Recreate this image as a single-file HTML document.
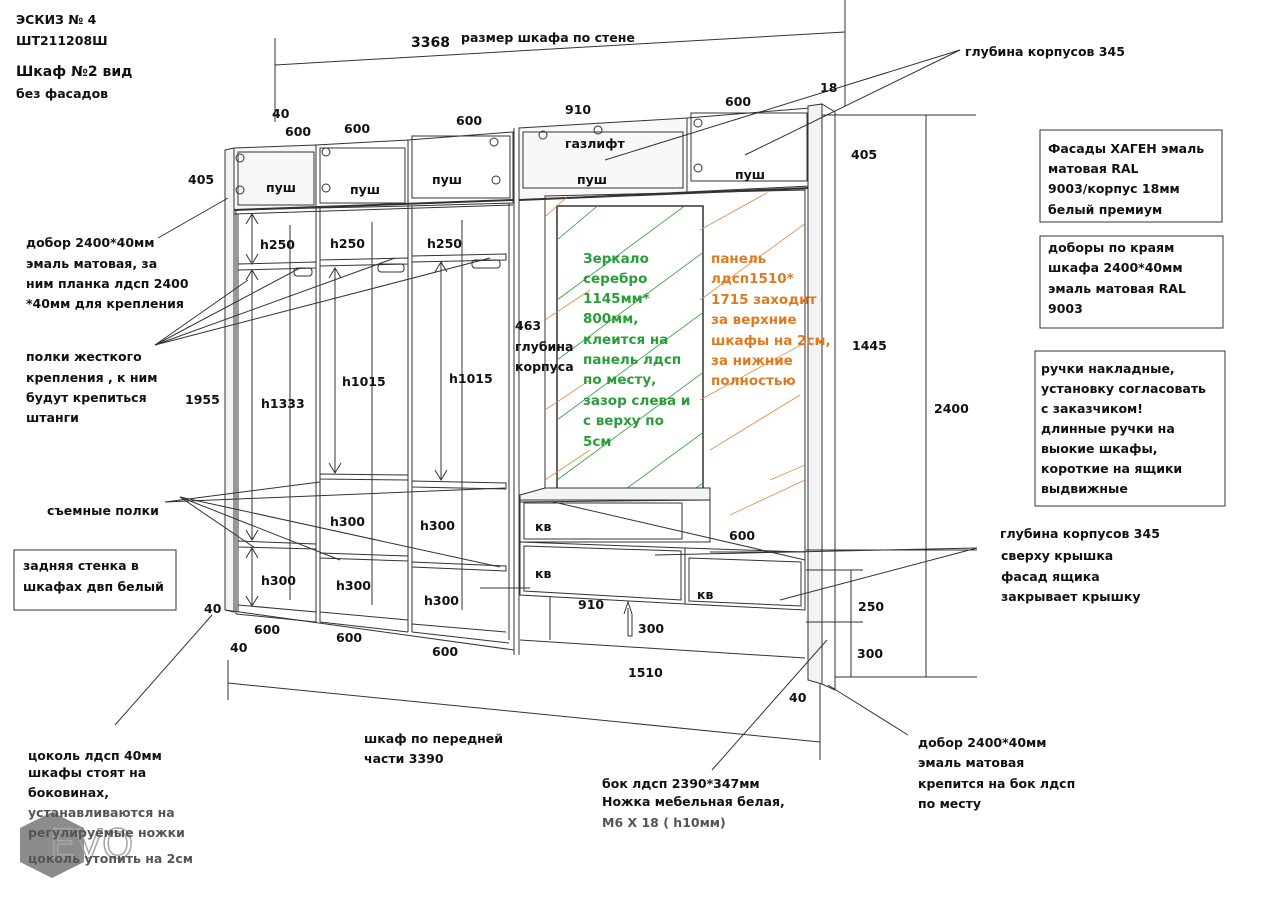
<!DOCTYPE html>
<html><head><meta charset="utf-8"><style>
html,body{margin:0;padding:0;background:#fff;}
svg{display:block;}
text{font-family:"DejaVu Sans","Liberation Sans",sans-serif;font-weight:bold;font-size:12.5px;fill:#111;}
.g{fill:#2a9d3a;font-size:13.5px;}
.o{fill:#e07a20;font-size:13.5px;}
</style></head><body>
<svg width="1275" height="900" viewBox="0 0 1275 900" xmlns="http://www.w3.org/2000/svg">
<defs>
<clipPath id="mir"><rect x="557" y="206" width="146" height="287"/></clipPath>
<clipPath id="pan"><polygon points="545,196 805,192 805,560 545,500"/></clipPath>
</defs>
<g stroke="#333" fill="none" stroke-width="1">
<line x1="275" y1="38" x2="275" y2="122"/>
<line x1="845" y1="0" x2="845" y2="106"/>
<line x1="275" y1="65" x2="845" y2="32"/>
<polygon points="225,150 234,148 234,612 225,610" fill="#f4f4f4"/>
<line x1="236" y1="148" x2="236" y2="614"/>
<polygon points="234,148 316,145 316,208 234,210" fill="#f7f7f7"/>
<rect x="238" y="152" width="76" height="53"/>
<polygon points="316,145 408,140 408,206 316,208"/>
<rect x="320" y="148" width="85" height="55"/>
<polygon points="408,140 513,132 513,203 408,206"/>
<rect x="412" y="136" width="98" height="62"/>
<circle cx="240" cy="158" r="4"/><circle cx="240" cy="190" r="4"/>
<circle cx="326" cy="152" r="4"/><circle cx="326" cy="188" r="4"/>
<circle cx="494" cy="142" r="4"/><circle cx="496" cy="180" r="4"/>
<line x1="234" y1="210" x2="513" y2="200" stroke-width="2"/>
<line x1="234" y1="214" x2="513" y2="205"/>
<line x1="238" y1="214" x2="238" y2="612"/>
<line x1="316" y1="208" x2="316" y2="622"/><line x1="320" y1="208" x2="320" y2="622"/>
<line x1="408" y1="206" x2="408" y2="632"/><line x1="412" y1="206" x2="412" y2="632"/>
<line x1="509" y1="203" x2="509" y2="640"/><line x1="514" y1="128" x2="514" y2="655"/>
<line x1="519" y1="128" x2="519" y2="655"/>
<line x1="290" y1="225" x2="290" y2="600"/>
<line x1="372" y1="222" x2="372" y2="605"/>
<line x1="462" y1="220" x2="462" y2="610"/>
<polygon points="238,264 316,262 316,268 238,270"/>
<polygon points="320,260 408,258 408,264 320,266"/>
<polygon points="412,256 506,254 506,260 412,262"/>
<polygon points="320,474 408,475 408,480 320,479"/>
<polygon points="412,481 506,483 506,489 412,487"/>
<polygon points="238,541 316,544 316,549 238,547"/>
<polygon points="320,553 408,556 408,561 320,558"/>
<polygon points="412,562 506,566 506,571 412,567"/>
<line x1="238" y1="605" x2="316" y2="612"/><line x1="320" y1="612" x2="408" y2="620"/>
<line x1="412" y1="624" x2="506" y2="632"/>
<line x1="236" y1="614" x2="316" y2="622"/><line x1="320" y1="622" x2="408" y2="632"/>
<line x1="412" y1="632" x2="509" y2="643"/>
<line x1="225" y1="610" x2="514" y2="650"/>
<rect x="294" y="268" width="18" height="8" rx="3"/>
<rect x="378" y="264" width="26" height="8" rx="3"/>
<rect x="472" y="260" width="28" height="8" rx="3"/>
<line x1="252" y1="214" x2="252" y2="262"/><line x1="252" y1="270" x2="252" y2="540"/>
<line x1="252" y1="548" x2="252" y2="605"/>
<line x1="335" y1="268" x2="335" y2="473"/><line x1="441" y1="262" x2="441" y2="480"/>
<path d="M246,224 252,214 258,224 M246,254 252,264 258,254 M246,280 252,270 258,280 M246,530 252,540 258,530 M246,558 252,548 258,558 M246,596 252,606 258,596"/>
<path d="M329,278 335,268 341,278 M329,463 335,473 341,463 M435,272 441,262 447,272 M435,470 441,480 447,470"/>
<polygon points="519,128 687,118 687,192 519,200" fill="#f8f8f8"/>
<rect x="523" y="132" width="160" height="56"/>
<polygon points="687,118 810,108 810,186 687,192"/>
<rect x="691" y="113" width="116" height="68"/>
<circle cx="543" cy="135" r="4"/><circle cx="598" cy="130" r="4"/>
<circle cx="698" cy="123" r="4"/><circle cx="698" cy="168" r="4"/>
<line x1="519" y1="200" x2="810" y2="188" stroke-width="2"/>
<polygon points="545,196 805,190 805,560 545,500"/>
<rect x="557" y="206" width="146" height="287" stroke-width="1.5"/>
<g clip-path="url(#pan)" stroke="#e08a40" stroke-width="0.8">
<line x1="530" y1="230" x2="620" y2="150"/><line x1="530" y1="330" x2="590" y2="290"/>
<line x1="530" y1="420" x2="590" y2="380"/><line x1="530" y1="490" x2="590" y2="450"/>
<line x1="700" y1="230" x2="790" y2="180"/><line x1="700" y1="300" x2="810" y2="220"/>
<line x1="700" y1="400" x2="810" y2="340"/><line x1="710" y1="450" x2="800" y2="395"/>
<line x1="770" y1="480" x2="805" y2="465"/><line x1="730" y1="515" x2="805" y2="480"/>
</g>
<g clip-path="url(#mir)" stroke="#2a9d3a" stroke-width="0.8">
<line x1="557" y1="240" x2="640" y2="170"/><line x1="557" y1="300" x2="720" y2="180"/>
<line x1="557" y1="360" x2="720" y2="240"/><line x1="557" y1="420" x2="720" y2="300"/>
<line x1="557" y1="480" x2="720" y2="360"/><line x1="570" y1="530" x2="720" y2="420"/>
<line x1="640" y1="530" x2="720" y2="470"/>
</g>
<polygon points="520,495 545,488 710,488 710,500 520,502" fill="#f4f4f4"/>
<rect x="520" y="500" width="190" height="42"/>
<rect x="524" y="503" width="158" height="36"/>
<polygon points="520,542 685,548 685,604 520,595"/>
<polygon points="524,546 681,551 681,600 524,591"/>
<polygon points="685,548 805,552 805,610 685,604"/>
<polygon points="689,558 801,562 801,606 689,601"/>
<line x1="710" y1="552" x2="805" y2="552"/>
<line x1="550" y1="597" x2="550" y2="640"/><line x1="520" y1="640" x2="805" y2="658"/>
<path d="M628,636 V608 M624,614 628,602 632,614 M628,636 h4 V614"/>
<polygon points="808,106 822,104 822,684 808,680" fill="#f3f3f3"/>
<polygon points="822,104 835,112 835,690 822,684"/>
<line x1="822" y1="115" x2="976" y2="115"/>
<line x1="926" y1="115" x2="926" y2="677"/>
<line x1="835" y1="677" x2="977" y2="677"/>
<line x1="806" y1="550" x2="977" y2="550"/>
<line x1="806" y1="570" x2="863" y2="570"/>
<line x1="806" y1="622" x2="863" y2="622"/>
<line x1="851" y1="570" x2="851" y2="677"/>
<line x1="228" y1="660" x2="228" y2="700"/>
<line x1="228" y1="683" x2="820" y2="742"/>
<line x1="820" y1="684" x2="820" y2="760"/>
<line x1="158" y1="238" x2="228" y2="198"/>
<line x1="155" y1="345" x2="300" y2="268"/>
<line x1="155" y1="345" x2="395" y2="258"/>
<line x1="155" y1="345" x2="490" y2="258"/>
<line x1="155" y1="345" x2="248" y2="280"/>
<line x1="165" y1="502" x2="320" y2="482"/>
<line x1="165" y1="502" x2="505" y2="488"/>
<line x1="180" y1="497" x2="255" y2="548"/>
<line x1="180" y1="497" x2="340" y2="560"/>
<line x1="180" y1="497" x2="500" y2="567"/>
<line x1="480" y1="588" x2="530" y2="588"/>
<line x1="115" y1="725" x2="212" y2="615"/>
<line x1="712" y1="770" x2="827" y2="640"/>
<line x1="908" y1="735" x2="828" y2="685"/>
<line x1="960" y1="50" x2="605" y2="160"/>
<line x1="960" y1="50" x2="745" y2="155"/>
<line x1="977" y1="548" x2="655" y2="555"/>
<line x1="977" y1="548" x2="780" y2="600"/>
<rect x="1040" y="130" width="182" height="92"/>
<rect x="1040" y="236" width="183" height="92"/>
<rect x="1035" y="351" width="190" height="155"/>
<rect x="14" y="550" width="162" height="60"/>
</g>
<g opacity="0.75">
<polygon points="52,812 84,828 84,862 52,878 20,862 20,828" fill="#666"/>
<text x="50" y="858" style="font-size:40px;font-weight:normal;fill:none;stroke:#888;stroke-width:1.5">EVO</text>
</g>
<text x="16" y="24">ЭСКИЗ № 4</text>
<text x="16" y="45">ШТ211208Ш</text>
<text x="16" y="76" style="font-size:14px">Шкаф №2 вид</text>
<text x="16" y="98">без фасадов</text>
<text x="411" y="47" style="font-size:14px">3368</text>
<text x="461" y="42">размер шкафа по стене</text>
<text x="965" y="56">глубина корпусов 345</text>
<text x="272" y="118">40</text>
<text x="285" y="136">600</text><text x="344" y="133">600</text><text x="456" y="125">600</text>
<text x="565" y="114">910</text><text x="725" y="106">600</text><text x="820" y="92">18</text>
<text x="188" y="184">405</text><text x="851" y="159">405</text>
<text x="266" y="192">пуш</text><text x="350" y="194">пуш</text><text x="432" y="184">пуш</text>
<text x="565" y="148">газлифт</text><text x="577" y="184">пуш</text><text x="735" y="179">пуш</text>
<text x="260" y="249">h250</text><text x="330" y="248">h250</text><text x="427" y="248">h250</text>
<text x="261" y="408">h1333</text><text x="342" y="386">h1015</text><text x="449" y="383">h1015</text>
<text x="330" y="526">h300</text><text x="420" y="530">h300</text>
<text x="261" y="585">h300</text><text x="336" y="590">h300</text><text x="424" y="605">h300</text>
<text x="185" y="404">1955</text>
<text x="254" y="634">600</text><text x="336" y="642">600</text><text x="432" y="656">600</text>
<text x="204" y="613">40</text><text x="230" y="652">40</text>
<text x="515" y="330">463</text><text x="515" y="351">глубина</text><text x="515" y="371">корпуса</text>
<text class="g" x="583" y="263">Зеркало</text><text class="g" x="583" y="283">серебро</text>
<text class="g" x="583" y="303">1145мм*</text><text class="g" x="583" y="323">800мм,</text>
<text class="g" x="583" y="344">клеится на</text><text class="g" x="583" y="364">панель лдсп</text>
<text class="g" x="583" y="384">по месту,</text><text class="g" x="583" y="405">зазор слева и</text>
<text class="g" x="583" y="425">с верху по</text><text class="g" x="583" y="446">5см</text>
<text class="o" x="711" y="263">панель</text><text class="o" x="711" y="283">лдсп1510*</text>
<text class="o" x="711" y="304">1715 заходит</text><text class="o" x="711" y="324">за верхние</text>
<text class="o" x="711" y="345">шкафы на 2см,</text><text class="o" x="711" y="365">за нижние</text>
<text class="o" x="711" y="385">полностью</text>
<text x="535" y="531">кв</text><text x="535" y="578">кв</text><text x="697" y="599">кв</text>
<text x="729" y="540">600</text><text x="578" y="609">910</text><text x="638" y="633">300</text>
<text x="628" y="677">1510</text>
<text x="852" y="350">1445</text><text x="934" y="413">2400</text>
<text x="858" y="611">250</text><text x="857" y="658">300</text>
<text x="789" y="702">40</text>
<text x="1048" y="153">Фасады ХАГЕН эмаль</text><text x="1048" y="173">матовая RAL</text>
<text x="1048" y="193">9003/корпус 18мм</text><text x="1048" y="214">белый премиум</text>
<text x="1048" y="252">доборы по краям</text><text x="1048" y="272">шкафа 2400*40мм</text>
<text x="1048" y="293">эмаль матовая RAL</text><text x="1048" y="313">9003</text>
<text x="1041" y="373">ручки накладные,</text><text x="1041" y="393">установку согласовать</text>
<text x="1041" y="413">с заказчиком!</text><text x="1041" y="433">длинные ручки на</text>
<text x="1041" y="453">выокие шкафы,</text><text x="1041" y="473">короткие на ящики</text>
<text x="1041" y="493">выдвижные</text>
<text x="26" y="247">добор 2400*40мм</text><text x="26" y="268">эмаль матовая, за</text>
<text x="26" y="288">ним планка лдсп 2400</text><text x="26" y="308">*40мм для крепления</text>
<text x="26" y="361">полки жесткого</text><text x="26" y="382">крепления , к ним</text>
<text x="26" y="402">будут крепиться</text><text x="26" y="422">штанги</text>
<text x="47" y="515">съемные полки</text>
<text x="23" y="570">задняя стенка в</text><text x="23" y="591">шкафах двп белый</text>
<text x="28" y="760">цоколь лдсп 40мм</text><text x="28" y="777">шкафы стоят на</text>
<text x="28" y="797">боковинах,</text>
<text x="28" y="817" style="fill:#555">устанавливаются на</text>
<text x="28" y="837" style="fill:#555">регулируемые ножки</text>
<text x="28" y="863" style="fill:#555">цоколь утопить на 2см</text>
<text x="364" y="743">шкаф по передней</text><text x="364" y="763">части 3390</text>
<text x="602" y="788">бок лдсп 2390*347мм</text><text x="602" y="806">Ножка мебельная белая,</text>
<text x="602" y="827" style="fill:#555">M6 X 18 ( h10мм)</text>
<text x="918" y="747">добор 2400*40мм</text><text x="918" y="767">эмаль матовая</text>
<text x="918" y="788">крепится на бок лдсп</text><text x="918" y="808">по месту</text>
<text x="1000" y="538">глубина корпусов 345</text><text x="1001" y="560">сверху крышка</text>
<text x="1001" y="581">фасад ящика</text><text x="1001" y="601">закрывает крышку</text>
</svg>
</body></html>
